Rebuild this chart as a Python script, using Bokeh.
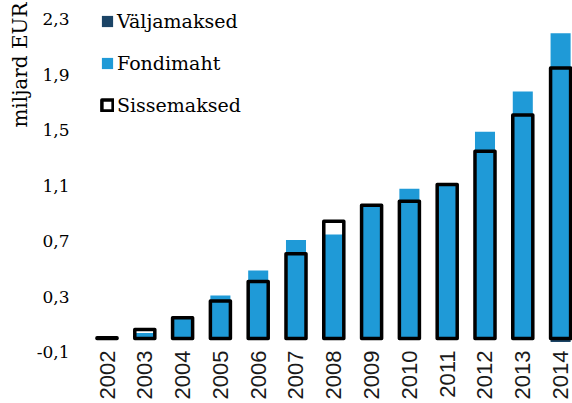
from math import pi

from bokeh.plotting import figure
from bokeh.models import (ColumnDataSource, FixedTicker, CustomJSTickFormatter,
                          Legend, LegendItem, Range1d, Title)
from bokeh.embed import file_html
from bokeh.resources import INLINE

# Pension fund figures, billion EUR
years = ["2002", "2003", "2004", "2005", "2006", "2007", "2008",
         "2009", "2010", "2011", "2012", "2013", "2014"]
valjamaksed = [0.0, 0.0, 0.0, 0.0, 0.0, 0.0, 0.0,
               0.0, 0.0, 0.0, 0.0, 0.0, -0.025]
fondimaht = [0.0, 0.04, 0.16, 0.31, 0.49, 0.71, 0.75,
             0.96, 1.08, 1.11, 1.49, 1.78, 2.20]
sissemaksed = [0.005, 0.065, 0.15, 0.27, 0.41, 0.61, 0.845,
               0.96, 0.99, 1.11, 1.35, 1.61, 1.95]
y_ticks = [-0.1, 0.3, 0.7, 1.1, 1.5, 1.9, 2.3]

NAVY = "#1B4466"
BLUE = "#1F9AD7"
SERIF = "DejaVu Serif"
SANS = "Liberation Sans"

idx = list(range(len(years)))
src = ColumnDataSource(dict(x=idx, valj=valjamaksed, fond=fondimaht,
                            siss=sissemaksed, zero=[0.0] * len(idx)))

p = figure(width=572, height=403, output_backend="svg", toolbar_location=None,
           x_range=Range1d(-0.754, 12.315), y_range=Range1d(-0.101, 2.436),
           min_border_left=78, min_border_right=0, min_border_top=0,
           min_border_bottom=51)
p.outline_line_color = None
p.grid.visible = False
p.background_fill_color = "white"

bw = 0.53
r_valj = p.vbar(x="x", top="valj", bottom="zero", width=bw, source=src,
                fill_color=NAVY, line_color=None)
r_fond = p.vbar(x="x", top="fond", bottom="zero", width=bw, source=src,
                fill_color=BLUE, line_color=None)
r_siss = p.vbar(x="x", top="siss", bottom="zero", width=bw, source=src,
                fill_color=None, line_color="black", line_width=3.5,
                line_join="round")

# y axis tick labels
yax = p.yaxis[0]
yax.ticker = FixedTicker(ticks=y_ticks)
yax.formatter = CustomJSTickFormatter(code="return tick.toFixed(1).replace('.', ',')")
yax.axis_line_color = None
yax.major_tick_line_color = None
yax.minor_tick_line_color = None
yax.major_label_standoff = 3
yax.major_label_text_font = SERIF
yax.major_label_text_font_size = "17px"
yax.major_label_text_color = "black"

# vertical unit title, aligned to the top of the frame
p.add_layout(Title(text="miljard EUR", align="right", vertical_align="top",
                   offset=2, standoff=0, text_font=SERIF,
                   text_font_size="20px", text_font_style="normal",
                   text_color="black"), "left")

# x axis with year labels
xax = p.xaxis[0]
xax.ticker = FixedTicker(ticks=idx)
xax.major_label_overrides = {i: y for i, y in zip(idx, years)}
xax.major_label_orientation = pi / 2
xax.axis_line_color = None
xax.major_tick_line_color = None
xax.minor_tick_line_color = None
xax.major_label_standoff = -8
xax.major_label_text_font = SANS
xax.major_label_text_font_size = "22px"
xax.major_label_text_color = "#1a1a1a"

legend = Legend(items=[LegendItem(label="Väljamaksed", renderers=[r_valj]),
                       LegendItem(label="Fondimaht", renderers=[r_fond]),
                       LegendItem(label="Sissemaksed", renderers=[r_siss])],
                location=(22, 236), padding=0, margin=0, spacing=20,
                glyph_width=14, glyph_height=14, label_height=22,
                label_standoff=3, border_line_color=None,
                background_fill_alpha=0,
                label_text_font=SERIF, label_text_font_size="19px",
                label_text_color="black")
p.add_layout(legend)

open("out.html", "w").write(file_html(p, INLINE))
